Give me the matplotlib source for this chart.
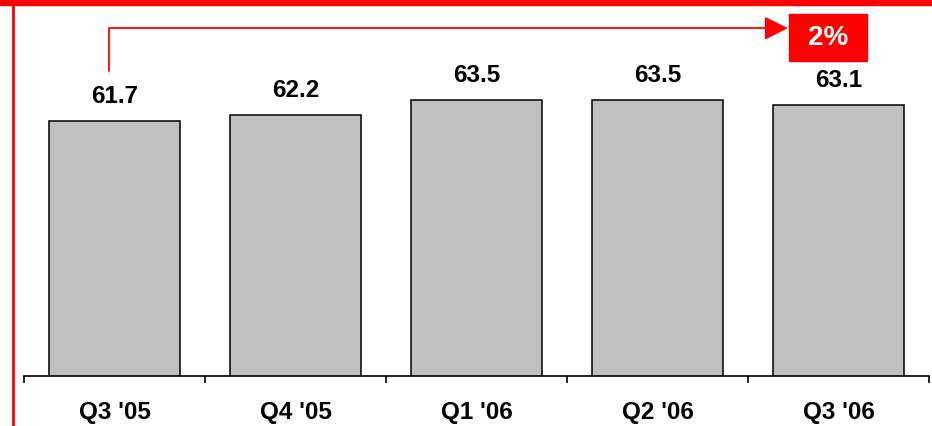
import matplotlib.pyplot as plt
from matplotlib.patches import Rectangle
from matplotlib.lines import Line2D

plt.rcParams['font.family'] = ['Liberation Sans', 'DejaVu Sans']
plt.rcParams['font.weight'] = 'bold'

quarters = ["Q3 '05", "Q4 '05", "Q1 '06", "Q2 '06", "Q3 '06"]
values = [61.7, 62.2, 63.5, 63.5, 63.1]

W, H = 932, 426
fig = plt.figure(figsize=(W/100, H/100), dpi=100)
ax = fig.add_axes([24/W, 50/H, 905/W, 370/H])

x = list(range(len(values)))
ax.bar(x, values, width=0.72, color='#c0c0c0', edgecolor='black', linewidth=1.1)
ax.set_xlim(-0.5, len(values) - 0.5)
ax.set_ylim(40, 40 + 370/11.75)

for s in ['top', 'right', 'left']:
    ax.spines[s].set_visible(False)
ax.spines['bottom'].set_linewidth(1.2)
ax.set_yticks([])
ax.set_xticks([i - 0.5 for i in range(len(values) + 1)])
ax.set_xticklabels([])
ax.tick_params(axis='x', direction='out', length=5, width=1.2)

for i, v in enumerate(values):
    ax.annotate(f'{v:.1f}', xy=(i, v), xytext=(0, 13), textcoords='offset points',
                ha='center', va='baseline', fontsize=17.5, fontweight='bold')
    ax.annotate(quarters[i], xy=(i, 0), xycoords=('data', 'axes fraction'),
                xytext=(0, -31), textcoords='offset points',
                ha='center', va='baseline', fontsize=17.5, fontweight='bold')

# growth arrow from first to last quarter
growth = (values[-1] / values[0] - 1) * 100
ax.annotate('', xy=(3.72, 69.6), xytext=(-0.03, 66.0),
            arrowprops=dict(arrowstyle='-|>,head_length=1.44,head_width=0.72',
                            mutation_scale=10, color='red', lw=1.3,
                            shrinkA=0, shrinkB=0,
                            connectionstyle='angle,angleA=90,angleB=0,rad=0'),
            annotation_clip=False)
ax.add_patch(Rectangle((3.94 - 0.215, 66.81), 0.43, 4.0, color='red', clip_on=False))
ax.text(3.94, 68.75, f'{round(growth)}%', color='white', fontsize=20,
        fontweight='bold', ha='center', va='center')

# red frame (top and left)
fig.add_artist(Rectangle((0, 1 - 5/H), 1, 5/H, color='red', transform=fig.transFigure))
fig.add_artist(Line2D([13/W, 13/W], [0, 1], color='red', lw=2, transform=fig.transFigure))

fig.savefig('out.png', dpi=100)
